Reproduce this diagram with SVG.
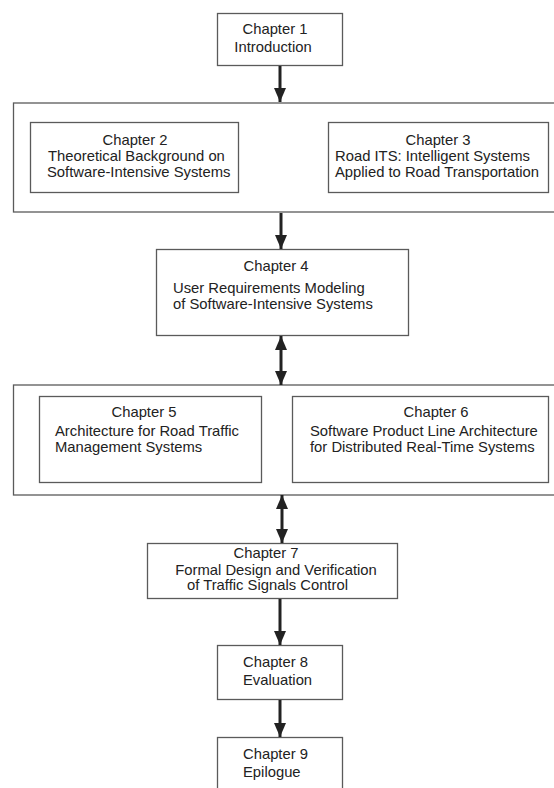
<svg xmlns="http://www.w3.org/2000/svg" width="554" height="788" viewBox="0 0 554 788">
  <style>
    .box { fill: #fff; stroke: #5a5a5a; stroke-width: 1.3; }
    .frame { fill: none; stroke: #5a5a5a; stroke-width: 1.3; }
    .lbl { font-family: "Liberation Sans", Arial, sans-serif; font-size: 14.8px; fill: #222; }
    .mid { text-anchor: middle; }
    .conn { stroke: #222; stroke-width: 3; fill: none; }
  </style>
  <defs>
    <marker id="ah" viewBox="0 0 14 12" refX="14" refY="6" markerWidth="14" markerHeight="12" markerUnits="userSpaceOnUse" orient="auto-start-reverse">
      <path d="M0,0 L14,6 L0,12 z" fill="#222"/>
    </marker>
  </defs>

  <rect fill="#fff" x="0" y="0" width="554" height="788"/>

  <!-- grouping frames -->
  <g id="group-2-3">
    <rect class="frame" x="13.5" y="103" width="560" height="109"/>
  </g>
  <g id="group-5-6">
    <rect class="frame" x="13.5" y="385" width="560" height="110"/>
  </g>

  <g id="ch1">
    <rect class="box" x="217.5" y="13.5" width="125" height="52"/>
    <text class="lbl mid" x="275" y="34">Chapter 1</text>
    <text class="lbl mid" x="273" y="52">Introduction</text>
  </g>

  <g id="ch2">
    <rect class="box" x="30.5" y="122.5" width="208" height="70"/>
    <text class="lbl mid" x="135" y="145">Chapter 2</text>
    <text class="lbl" x="48" y="161">Theoretical Background on</text>
    <text class="lbl" x="47" y="177">Software-Intensive Systems</text>
  </g>

  <g id="ch3">
    <rect class="box" x="328.5" y="122.5" width="220" height="70"/>
    <text class="lbl mid" x="438" y="145">Chapter 3</text>
    <text class="lbl" x="335" y="161">Road ITS: Intelligent Systems</text>
    <text class="lbl" x="335" y="177">Applied to Road Transportation</text>
  </g>

  <g id="ch4">
    <rect class="box" x="156.5" y="249.5" width="252" height="86"/>
    <text class="lbl mid" x="276" y="271">Chapter 4</text>
    <text class="lbl" x="173" y="293">User Requirements Modeling</text>
    <text class="lbl" x="173" y="309">of Software-Intensive Systems</text>
  </g>

  <g id="ch5">
    <rect class="box" x="39.5" y="396.5" width="222" height="86"/>
    <text class="lbl mid" x="144" y="417">Chapter 5</text>
    <text class="lbl" x="55" y="436">Architecture for Road Traffic</text>
    <text class="lbl" x="55" y="452">Management Systems</text>
  </g>

  <g id="ch6">
    <rect class="box" x="292.5" y="396.5" width="256" height="86"/>
    <text class="lbl mid" x="436" y="417">Chapter 6</text>
    <text class="lbl" x="310" y="436">Software Product Line Architecture</text>
    <text class="lbl" x="310" y="452">for Distributed Real-Time Systems</text>
  </g>

  <g id="ch7">
    <rect class="box" x="147.5" y="543.5" width="250" height="55"/>
    <text class="lbl mid" x="266" y="558">Chapter 7</text>
    <text class="lbl mid" x="276" y="575">Formal Design and Verification</text>
    <text class="lbl" x="187" y="590">of Traffic Signals Control</text>
  </g>

  <g id="ch8">
    <rect class="box" x="217.5" y="645.5" width="125" height="54"/>
    <text class="lbl" x="243" y="667">Chapter 8</text>
    <text class="lbl" x="243" y="685">Evaluation</text>
  </g>

  <g id="ch9">
    <rect class="box" x="217.5" y="737.5" width="125" height="60"/>
    <text class="lbl" x="243" y="759">Chapter 9</text>
    <text class="lbl" x="243" y="777">Epilogue</text>
  </g>

  <!-- connectors -->
  <g id="connectors">
    <line class="conn" x1="280" y1="66" x2="280" y2="102" marker-end="url(#ah)"/>
    <line class="conn" x1="281" y1="213" x2="281" y2="249" marker-end="url(#ah)"/>
    <line class="conn" x1="281" y1="336" x2="281" y2="385" marker-start="url(#ah)" marker-end="url(#ah)"/>
    <line class="conn" x1="282" y1="495" x2="282" y2="543" marker-start="url(#ah)" marker-end="url(#ah)"/>
    <line class="conn" x1="280" y1="599" x2="280" y2="645" marker-end="url(#ah)"/>
    <line class="conn" x1="280" y1="700" x2="280" y2="737" marker-end="url(#ah)"/>
  </g>
</svg>
